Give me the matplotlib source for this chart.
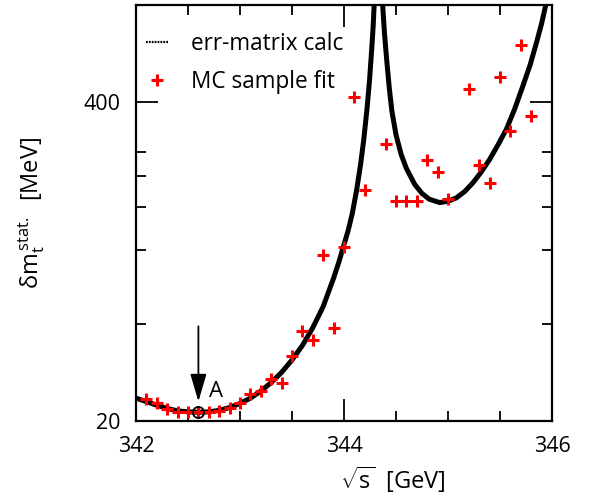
import numpy as np
import matplotlib
matplotlib.use('Agg')
import matplotlib.pyplot as plt
from matplotlib.lines import Line2D

plt.rcParams['font.family'] = ['Open Sans', 'DejaVu Sans']
plt.rcParams['mathtext.fontset'] = 'custom'
plt.rcParams['mathtext.rm'] = 'Open Sans'
plt.rcParams['mathtext.it'] = 'Open Sans'
plt.rcParams['mathtext.default'] = 'regular'

# MC sample fit points (sqrt(s) in GeV, delta m_t in MeV)
mc_sqrt_s = [342.1, 342.2, 342.3, 342.4, 342.5, 342.6, 342.7, 342.8, 342.9, 343.0,
             343.1, 343.2, 343.3, 343.4, 343.5, 343.6, 343.7, 343.8, 343.9, 344.0,
             344.1, 344.2, 344.4, 344.5, 344.6, 344.7, 344.8, 344.9, 345.0,
             345.2, 345.3, 345.4, 345.5, 345.6, 345.7, 345.8]
mc_dmt = [24.6, 23.6, 22.4, 21.8, 21.8, 21.8, 21.8, 22.0, 22.7, 23.6,
          25.7, 26.5, 29.7, 28.7, 36.7, 46.7, 42.9, 94.9, 47.9, 103,
          420, 176, 271, 159, 159, 159, 232, 208, 161,
          452, 222, 188, 508, 305, 687, 352]

# err-matrix calculation, left branch (below the pole) and right branch
calc_left_x = [342.0, 342.1, 342.2, 342.3, 342.4, 342.5, 342.6, 342.7, 342.8, 342.9,
               343.0, 343.1, 343.2, 343.3, 343.4, 343.5, 343.6, 343.7, 343.8, 343.9,
               343.95, 344.0, 344.04, 344.08, 344.12, 344.16, 344.19, 344.22, 344.245,
               344.265, 344.28, 344.29]
calc_left_y = [24.8, 24.0, 23.2, 22.5, 22.0, 21.8, 21.7, 21.8, 22.1, 22.7,
               23.6, 24.8, 26.5, 28.7, 31.6, 35.5, 40.7, 48.1, 58.7, 76.7,
               89, 105, 120, 141, 174, 224, 282, 372, 490,
               646, 813, 1000]
calc_right_x = [344.372, 344.38, 344.39, 344.41, 344.435, 344.46, 344.5, 344.55, 344.6,
                344.68, 344.75, 344.82, 344.92, 345.0, 345.08, 345.16, 345.24, 345.32,
                345.40, 345.48, 345.56, 345.64, 345.72, 345.79, 345.85, 345.9, 345.94]
calc_right_y = [1000, 880, 760, 600, 460, 370, 295, 245, 215,
                185, 170, 161, 156, 158, 163, 173, 188, 208,
                234, 268, 310, 375, 467, 570, 700, 840, 1000]

point_a = (342.6, 21.7)

fig = plt.figure(figsize=(5.9, 4.97), dpi=100)
ax = fig.add_axes([136 / 590, 76 / 497, 416 / 590, 416 / 497])

ax.plot(calc_left_x, calc_left_y, color='black', lw=3.6, solid_capstyle='butt',
        solid_joinstyle='round', zorder=2)
ax.plot(calc_right_x, calc_right_y, color='black', lw=3.6, solid_capstyle='butt',
        solid_joinstyle='round', zorder=2)
ax.plot(mc_sqrt_s, mc_dmt, ls='none', marker='+', color='red', ms=9, mew=2.2, zorder=3)

# point A with arrow
ax.plot([point_a[0]], [point_a[1]], marker='o', ms=8, mfc='none', mec='black', mew=1.3, zorder=4)
ax.annotate('', xy=(342.6, 23.4), xytext=(342.6, 50),
            arrowprops=dict(arrowstyle='-|>,head_length=1.7,head_width=0.5', color='black', lw=1.3))
ax.text(342.77, 26.5, 'A', fontsize=16, ha='center', va='center')

ax.set_yscale('log')
ax.set_xlim(342, 346)
ax.set_ylim(20, 1000)

ax.set_xticks([342, 344, 346])
ax.set_xticklabels(['342', '344', '346'])
ax.set_xticks([342.5, 343, 343.5, 344.5, 345, 345.5], minor=True)
ax.set_yticks([20, 400])
ax.set_yticklabels(['20', '400'])
ax.set_yticks([50, 100, 150, 200, 250], minor=True)
ax.yaxis.set_minor_formatter(matplotlib.ticker.NullFormatter())

ax.tick_params(which='both', direction='in', top=True, right=True, width=1.3)
ax.tick_params(which='major', length=16, labelsize=15.5, pad=11)
ax.tick_params(which='minor', length=7.5)
for sp in ax.spines.values():
    sp.set_linewidth(1.6)

ax.set_xlabel(r'$\sqrt{s}$  [GeV]', fontsize=17)
ax.xaxis.label.set_va('center')
ax.xaxis.set_label_coords(0.618, -0.142)
ax.set_ylabel(r'$\delta m_t^{\,stat.}$  [MeV]', fontsize=17)
ax.yaxis.label.set_va('center')
ax.yaxis.set_label_coords(-0.25, 0.5)

handles = [Line2D([0], [0], color='black', lw=1.6, ls=(0, (0.8, 0.5))),
           Line2D([0], [0], ls='none', marker='+', color='red', ms=9, mew=2.2)]
ax.legend(handles, ['err-matrix calc', 'MC sample fit'], loc='upper left',
          bbox_to_anchor=(0.025, 0.935), frameon=False, fontsize=16.3,
          handlelength=0.95, handletextpad=1.0, labelspacing=0.6,
          borderpad=0, borderaxespad=0)

fig.savefig('out.png', dpi=100)
